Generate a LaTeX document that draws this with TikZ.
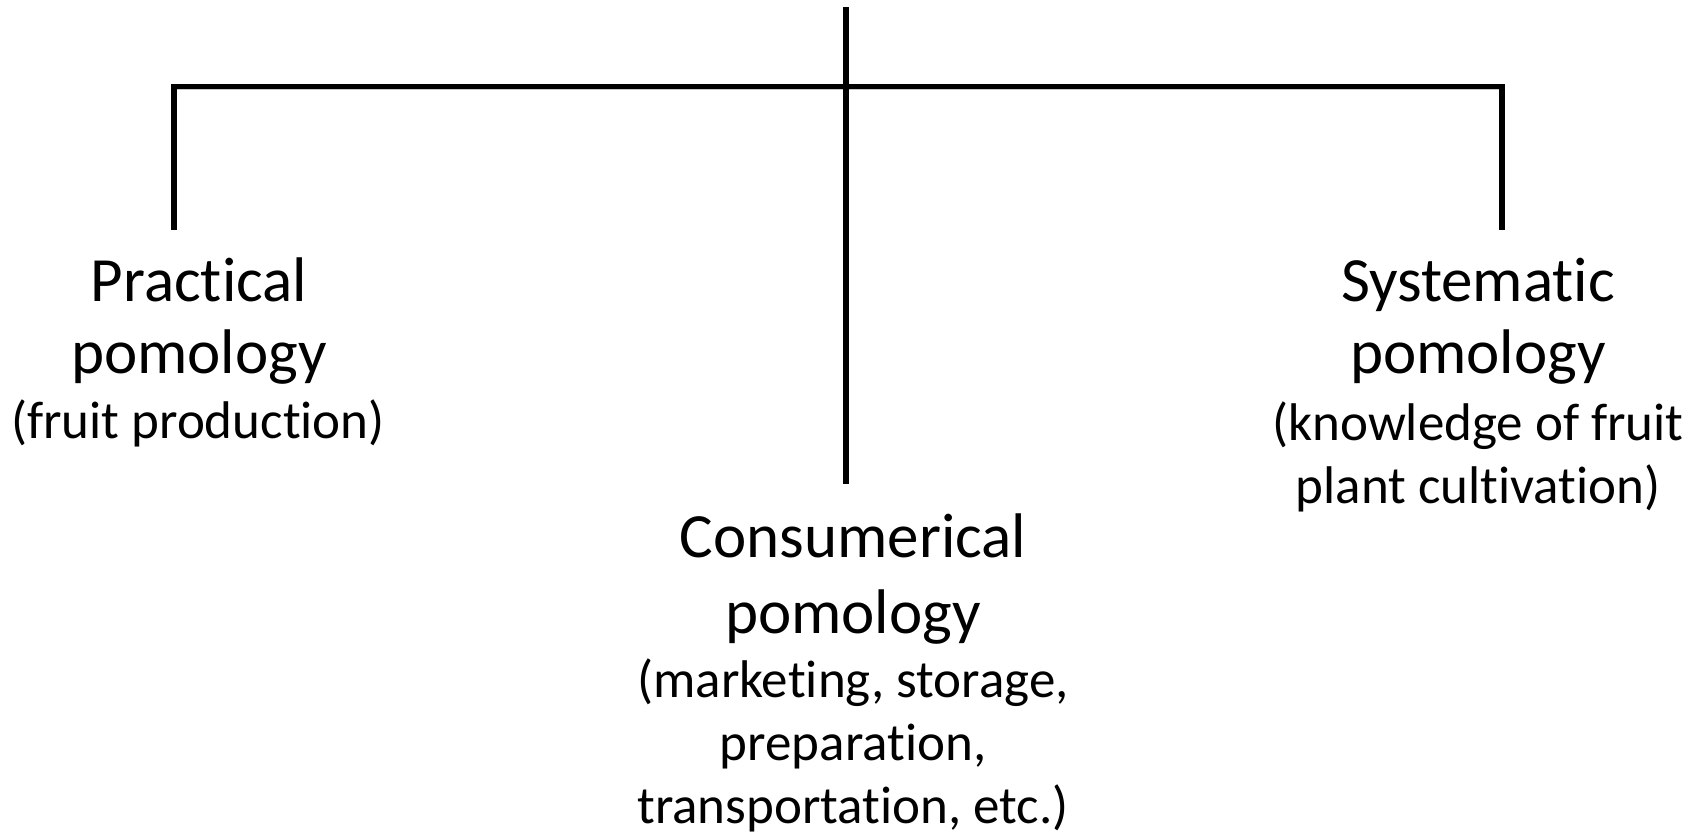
\documentclass[tikz,border=0pt]{standalone}
\usepackage{fontspec}
\setmainfont{Carlito}[RawFeature=-liga]
\begin{document}
\begin{tikzpicture}[x=1pt,y=-1pt,
  branch/.style={line width=5.6pt, line cap=butt, line join=miter, black},
  branchshadow/.style={line width=6pt, line cap=butt, line join=miter, black!22},
  headtext/.style={align=center, inner sep=0pt, font=\fontsize{63}{72}\selectfont},
  subtext/.style={align=center, inner sep=0pt, font=\fontsize{53}{63}\selectfont}]
\useasboundingbox (0,0) rectangle (1704,836);
% nodes
\node[headtext, anchor=base] (prac) at (199,373) {Practical\\pomology};
\node[subtext, anchor=base] (pracsub) at (198,438) {(fruit production)};
\node[headtext, anchor=base] (syst) at (1478,373) {Systematic\\pomology};
\node[subtext, anchor=base] (systsub) at (1478,503) {(knowledge of fruit\\plant cultivation)};
\node[headtext, anchor=base, font=\fontsize{63}{76}\selectfont] (cons) at (853,633) {Consumerical\\pomology};
\node[subtext, anchor=base] (conssub) at (853,823) {(marketing, storage,\\preparation,\\transportation, etc.)};
% connector coordinates
\coordinate (top) at (846,7);
\coordinate (hub) at (846,86.5);
\coordinate (lcorner) at (174,86.5);
\coordinate (rcorner) at (1502,86.5);
\coordinate (lend) at (174,230);
\coordinate (rend) at (1502,230);
\coordinate (cend) at (846,484);
\begin{scope}[shift={(2,3)}]
\draw[branchshadow] (lend) -- (lcorner) -- (rcorner) -- (rend);
\draw[branchshadow] (top) -- (cend);
\end{scope}
\draw[branch] (lend) -- (lcorner) -- (rcorner) -- (rend);
\draw[branch] (top) -- (cend);
\end{tikzpicture}
\end{document}
